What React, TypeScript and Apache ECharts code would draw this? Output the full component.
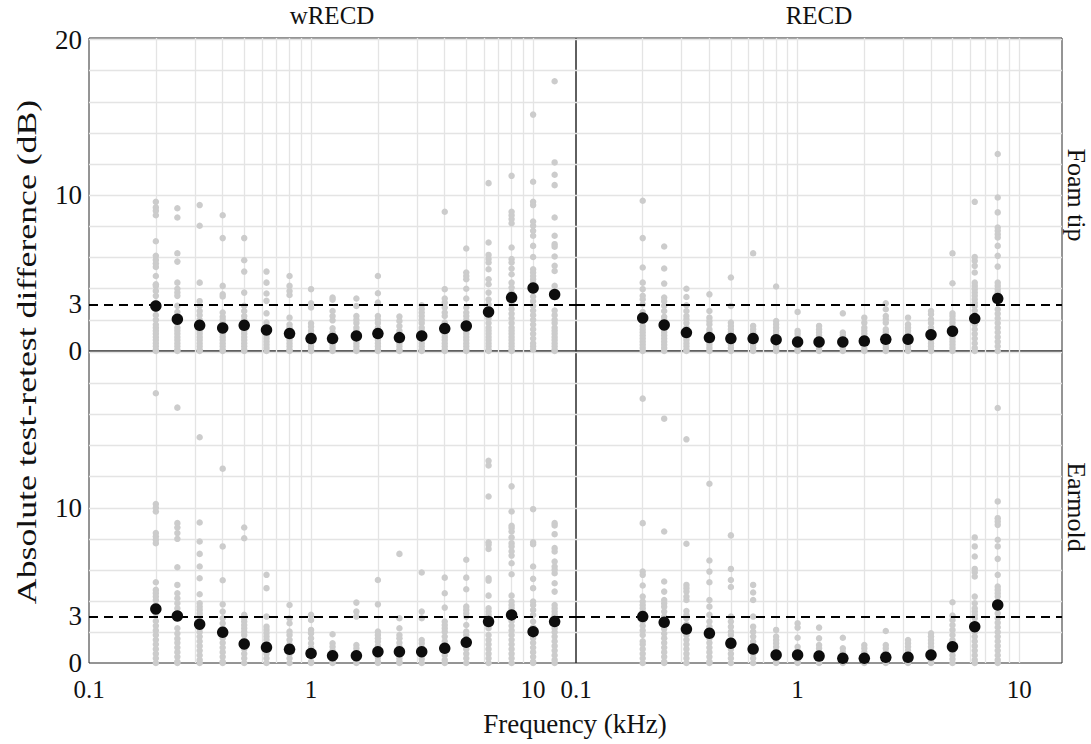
import React, { useEffect, useRef } from "react";
import * as echarts from "echarts";

// ---------- data ----------
const FREQS_WRECD = [0.2, 0.25, 0.315, 0.4, 0.5, 0.63, 0.8, 1, 1.25, 1.6, 2, 2.5, 3.15, 4, 5, 6.3, 8, 10, 12.5];
const FREQS_RECD = [0.2, 0.25, 0.315, 0.4, 0.5, 0.63, 0.8, 1, 1.25, 1.6, 2, 2.5, 3.15, 4, 5, 6.3, 8];

const wrecdFoamMean = [2.89, 2.04, 1.65, 1.48, 1.65, 1.35, 1.12, 0.8, 0.8, 0.97, 1.12, 0.86, 0.97, 1.44, 1.61, 2.51, 3.43, 4.05, 3.63];
const recdFoamMean = [2.12, 1.67, 1.18, 0.86, 0.8, 0.8, 0.73, 0.58, 0.58, 0.58, 0.64, 0.75, 0.75, 1.05, 1.27, 2.08, 3.37];
const wrecdEarMean = [3.48, 3.03, 2.5, 1.98, 1.23, 1.01, 0.88, 0.62, 0.47, 0.47, 0.73, 0.73, 0.73, 0.95, 1.33, 2.67, 3.1, 2.02, 2.67];
const recdEarMean = [2.99, 2.62, 2.19, 1.91, 1.27, 0.9, 0.52, 0.52, 0.45, 0.3, 0.3, 0.37, 0.37, 0.52, 1.05, 2.34, 3.74];

const wrecdFoamGray = [
  [9.58, 9.22, 9.0, 8.72, 7.05, 6.11, 5.85, 5.62, 5.4, 4.82, 4.29, 4.18, 3.86, 3.54, 3.1, 2.7, 2.3, 2.0, 1.7, 1.5, 1.3, 1.1, 0.9, 0.7, 0.5, 0.3, 0.1, 0],
  [9.17, 8.57, 6.28, 5.74, 4.39, 4.0, 3.75, 3.54, 2.9, 2.5, 2.2, 1.8, 1.5, 1.3, 1.1, 0.9, 0.7, 0.5, 0.3, 0.1, 0],
  [9.37, 8.04, 4.39, 3.2, 2.9, 2.57, 2.3, 2.0, 1.8, 1.5, 1.3, 1.1, 0.9, 0.7, 0.5, 0.3, 0.1, 0],
  [8.72, 7.25, 4.18, 3.64, 3.5, 2.47, 2.2, 2.0, 1.8, 1.5, 1.3, 1.1, 0.9, 0.7, 0.5, 0.3, 0.1, 0],
  [7.25, 5.83, 5.1, 3.75, 2.9, 2.57, 2.25, 2.0, 1.8, 1.5, 1.3, 1.1, 0.9, 0.7, 0.5, 0.3, 0.1, 0],
  [5.1, 4.39, 3.69, 3.22, 2.42, 1.82, 1.6, 1.4, 1.2, 1.0, 0.8, 0.6, 0.4, 0.2, 0],
  [4.82, 4.18, 3.85, 3.6, 2.14, 1.7, 1.5, 1.3, 1.1, 0.9, 0.7, 0.5, 0.3, 0.1, 0],
  [3.97, 3.07, 2.79, 1.78, 1.55, 1.3, 1.1, 0.9, 0.7, 0.5, 0.3, 0.1, 0],
  [3.43, 3.3, 2.57, 2.25, 1.97, 1.46, 1.2, 1.0, 0.8, 0.6, 0.4, 0.2, 0],
  [3.37, 2.89, 2.25, 2.0, 1.8, 1.5, 1.3, 1.1, 0.9, 0.7, 0.5, 0.3, 0.1, 0],
  [4.82, 3.71, 3.11, 2.25, 2.0, 1.8, 1.5, 1.3, 1.1, 0.9, 0.7, 0.5, 0.3, 0.1, 0],
  [2.21, 1.93, 1.6, 1.3, 1.1, 0.9, 0.7, 0.5, 0.3, 0.1, 0],
  [2.94, 2.7, 2.47, 2.25, 2.0, 1.8, 1.5, 1.3, 1.1, 0.9, 0.7, 0.5, 0.3, 0.1, 0],
  [8.94, 3.97, 3.37, 3.11, 2.79, 2.47, 2.25, 1.82, 1.5, 1.3, 1.1, 0.9, 0.7, 0.5, 0.3, 0.1, 0],
  [6.58, 5.04, 4.82, 4.61, 4.0, 3.37, 2.79, 2.47, 2.25, 2.0, 1.8, 1.5, 1.3, 1.1, 0.9, 0.7, 0.5, 0.3, 0.1, 0],
  [10.78, 6.97, 6.17, 5.9, 5.68, 5.25, 4.61, 4.29, 3.75, 3.3, 3.0, 2.7, 2.4, 2.1, 1.8, 1.5, 1.3, 1.1, 0.9, 0.7, 0.5, 0.3, 0.1, 0],
  [11.25, 8.94, 8.72, 8.47, 8.2, 6.65, 5.9, 5.68, 5.3, 4.93, 4.39, 4.07, 3.75, 3.0, 2.7, 2.4, 2.1, 1.8, 1.5, 1.3, 1.1, 0.9, 0.7, 0.5, 0.3, 0.1, 0],
  [15.18, 10.87, 9.58, 9.37, 8.32, 8.04, 7.72, 7.4, 6.75, 6.04, 5.25, 5.04, 4.82, 4.61, 4.39, 3.5, 3.2, 2.9, 2.6, 2.3, 2.0, 1.7, 1.4, 1.1, 0.8, 0.5, 0.3, 0.1],
  [17.32, 12.11, 11.32, 10.65, 8.57, 7.4, 6.86, 6.7, 6.07, 5.47, 5.14, 4.18, 2.6, 2.3, 2.0, 1.8, 1.5, 1.3, 1.1, 0.9, 0.7, 0.5, 0.3, 0.1, 0],
];

const recdFoamGray = [
  [9.65, 7.25, 5.36, 4.39, 3.97, 3.54, 3.32, 3.0, 2.5, 2.2, 1.9, 1.6, 1.4, 1.2, 1.0, 0.8, 0.6, 0.4, 0.2, 0],
  [6.71, 5.3, 4.33, 3.43, 3.2, 2.9, 2.57, 2.2, 2.0, 1.4, 1.2, 1.0, 0.8, 0.6, 0.4, 0.2, 0],
  [4.0, 3.47, 2.94, 2.57, 2.25, 2.04, 1.8, 1.5, 1.3, 1.1, 0.9, 0.7, 0.5, 0.3, 0.1, 0],
  [3.64, 2.57, 2.14, 1.93, 1.71, 1.4, 1.2, 1.0, 0.8, 0.6, 0.4, 0.2, 0],
  [4.72, 2.89, 1.82, 1.6, 1.4, 1.2, 1.0, 0.8, 0.6, 0.4, 0.2, 0],
  [6.28, 1.61, 1.4, 1.2, 1.0, 0.8, 0.6, 0.4, 0.2, 0],
  [4.14, 1.93, 1.71, 1.5, 1.3, 1.1, 0.9, 0.7, 0.5, 0.3, 0.1, 0],
  [2.51, 1.29, 1.1, 0.9, 0.7, 0.5, 0.3, 0.1, 0],
  [1.61, 1.4, 1.2, 1.0, 0.8, 0.6, 0.4, 0.2, 0],
  [2.42, 1.18, 1.0, 0.8, 0.6, 0.4, 0.2, 0],
  [2.14, 1.82, 1.5, 1.3, 1.1, 0.9, 0.7, 0.5, 0.3, 0.1, 0],
  [3.07, 2.68, 2.25, 2.04, 1.82, 1.4, 1.2, 1.0, 0.8, 0.6, 0.4, 0.2, 0],
  [2.14, 1.71, 1.5, 1.3, 1.1, 0.9, 0.7, 0.5, 0.3, 0.1, 0],
  [2.57, 2.36, 2.04, 1.8, 1.5, 1.3, 1.1, 0.9, 0.7, 0.5, 0.3, 0.1, 0],
  [6.28, 4.35, 2.42, 2.25, 2.04, 1.82, 1.6, 1.4, 1.2, 1.0, 0.8, 0.6, 0.4, 0.2, 0],
  [9.58, 6.04, 5.79, 5.47, 5.04, 4.39, 4.18, 3.97, 3.75, 3.54, 3.32, 3.1, 2.89, 2.6, 2.3, 2.0, 1.7, 1.4, 1.1, 0.8, 0.5, 0.2, 0],
  [12.65, 9.86, 8.9, 7.93, 7.72, 7.5, 7.29, 6.75, 6.11, 5.42, 4.39, 4.18, 3.97, 3.75, 2.68, 2.4, 2.1, 1.8, 1.5, 1.2, 0.9, 0.6, 0.3, 0],
];

const wrecdEarGray = [
  [17.38, 10.24, 10.0, 9.76, 8.37, 8.15, 7.94, 7.72, 5.2, 4.71, 4.5, 4.28, 4.06, 3.74, 3.2, 2.7, 2.4, 2.1, 1.8, 1.5, 1.2, 0.9, 0.6, 0.3, 0],
  [16.45, 9.01, 8.73, 8.37, 8.0, 6.17, 5.03, 4.49, 4.17, 3.85, 3.53, 2.24, 1.9, 1.57, 1.3, 1.0, 0.7, 0.4, 0.1, 0],
  [14.54, 9.05, 7.83, 7.03, 6.22, 5.46, 4.43, 3.85, 3.63, 3.42, 3.2, 3.0, 2.24, 2.0, 1.7, 1.4, 1.1, 0.8, 0.5, 0.2, 0],
  [12.52, 7.51, 5.33, 3.78, 3.31, 2.88, 2.56, 2.24, 1.9, 1.6, 1.3, 1.0, 0.7, 0.4, 0.1, 0],
  [8.73, 8.04, 3.1, 2.88, 2.67, 2.45, 2.24, 2.02, 1.8, 1.5, 1.2, 0.9, 0.6, 0.3, 0],
  [5.68, 4.82, 2.99, 2.34, 2.13, 1.91, 1.7, 1.5, 1.2, 0.9, 0.6, 0.3, 0],
  [3.74, 2.88, 2.56, 2.02, 1.8, 1.5, 1.2, 0.9, 0.6, 0.3, 0],
  [3.1, 2.77, 2.13, 1.91, 1.59, 1.27, 1.0, 0.7, 0.4, 0.1, 0],
  [1.85, 1.27, 1.05, 0.8, 0.55, 0.3, 0.1, 0],
  [3.89, 3.31, 2.99, 1.16, 0.95, 0.7, 0.45, 0.2, 0],
  [5.35, 3.78, 2.02, 1.8, 1.59, 1.38, 1.1, 0.85, 0.6, 0.35, 0.1, 0],
  [7.03, 2.88, 2.24, 1.8, 1.59, 1.3, 1.05, 0.8, 0.55, 0.3, 0.1, 0],
  [5.83, 3.31, 2.88, 1.48, 1.27, 1.0, 0.75, 0.5, 0.25, 0],
  [5.5, 4.49, 3.57, 2.67, 2.45, 2.24, 2.02, 1.7, 1.4, 1.1, 0.8, 0.5, 0.2, 0],
  [6.65, 5.5, 4.75, 3.63, 3.42, 3.2, 2.99, 2.45, 2.02, 1.8, 1.5, 1.2, 0.9, 0.6, 0.3, 0],
  [13.03, 12.73, 10.73, 7.78, 7.61, 7.35, 5.46, 5.31, 4.34, 3.53, 3.31, 3.1, 2.24, 1.8, 1.5, 1.2, 0.9, 0.6, 0.3, 0],
  [11.38, 9.76, 8.84, 8.69, 8.47, 8.09, 7.72, 7.51, 7.2, 6.92, 6.43, 5.72, 4.34, 3.96, 3.74, 3.53, 2.7, 2.4, 2.1, 1.8, 1.5, 1.2, 0.9, 0.6, 0.3, 0],
  [9.91, 7.78, 7.65, 6.22, 5.42, 4.82, 3.96, 3.74, 3.42, 3.1, 2.67, 2.3, 1.9, 1.59, 1.3, 1.0, 0.7, 0.4, 0.1, 0],
  [9.01, 8.86, 8.3, 7.4, 7.18, 6.54, 6.22, 6.0, 5.78, 5.14, 4.6, 3.74, 3.53, 3.31, 3.1, 2.24, 2.0, 1.7, 1.4, 1.1, 0.8, 0.5, 0.2, 0],
];

const recdEarGray = [
  [17.03, 9.01, 5.89, 5.68, 4.99, 4.28, 3.96, 3.74, 3.53, 3.31, 2.67, 2.4, 2.1, 1.8, 1.4, 1.2, 0.9, 0.6, 0.3, 0],
  [15.74, 8.47, 5.25, 4.6, 4.06, 3.85, 3.63, 3.31, 2.99, 2.45, 2.2, 1.9, 1.6, 1.3, 1.0, 0.7, 0.4, 0.1, 0],
  [14.41, 7.68, 5.03, 4.82, 4.6, 4.28, 4.06, 3.35, 3.1, 2.88, 2.5, 1.8, 1.5, 1.2, 0.9, 0.6, 0.3, 0],
  [11.55, 6.6, 5.89, 5.2, 4.06, 3.63, 3.1, 2.67, 2.34, 1.9, 1.59, 1.3, 1.0, 0.7, 0.4, 0.1, 0],
  [8.22, 6.06, 5.35, 4.9, 2.99, 2.67, 2.34, 2.02, 1.8, 1.5, 1.2, 0.9, 0.6, 0.3, 0],
  [5.03, 4.54, 4.06, 2.99, 2.34, 2.02, 1.7, 1.38, 1.16, 0.9, 0.6, 0.3, 0],
  [2.13, 1.7, 1.48, 1.27, 1.05, 0.8, 0.55, 0.3, 0.1, 0],
  [2.56, 2.28, 1.63, 1.05, 0.8, 0.55, 0.3, 0.1, 0],
  [2.28, 1.59, 1.16, 0.95, 0.7, 0.45, 0.2, 0],
  [1.63, 0.95, 0.7, 0.45, 0.2, 0],
  [1.16, 0.95, 0.7, 0.45, 0.2, 0],
  [2.06, 1.16, 0.95, 0.7, 0.45, 0.2, 0],
  [1.48, 1.27, 1.05, 0.8, 0.55, 0.3, 0.1, 0],
  [1.91, 1.7, 1.48, 1.27, 1.05, 0.8, 0.55, 0.3, 0.1, 0],
  [3.91, 3.05, 2.77, 2.45, 2.13, 1.8, 1.48, 1.27, 1.0, 0.75, 0.5, 0.25, 0],
  [8.09, 7.51, 6.86, 6.06, 5.85, 5.57, 4.28, 3.85, 3.53, 3.31, 3.1, 2.88, 2.24, 2.0, 1.7, 1.4, 1.1, 0.8, 0.5, 0.2, 0],
  [16.43, 10.41, 9.33, 9.12, 8.9, 7.94, 7.51, 6.71, 5.68, 4.92, 4.71, 4.49, 4.28, 3.96, 3.6, 3.2, 2.9, 2.6, 2.3, 2.0, 1.7, 1.4, 1.1, 0.8, 0.5, 0.2, 0],
];

const X_TICKS = [0.1, 1, 10];
const X_TICK_LABELS = ["0.1", "1", "10"];
const Y_TICKS_TOP = [0, 3, 10, 20];
const Y_TICKS_BOTTOM = [0, 3, 10];
const X_GRIDLINES = [0.2, 0.3, 0.4, 0.5, 0.6, 0.7, 0.8, 0.9, 1, 2, 3, 4, 5, 6, 7, 8, 9, 10];
const Y_GRIDLINES = [2, 4, 6, 8, 10, 12, 14, 16, 18, 20];
const REFERENCE_DB = 3;
const X_RANGE = [0.1, 15.6];
const Y_RANGE = [0, 20.1];

const COLUMN_TITLES = ["wRECD", "RECD"];
const ROW_TITLES = ["Foam tip", "Earmold"];
const X_TITLE = "Frequency (kHz)";
const Y_TITLE = "Absolute test-retest difference (dB)";

// ---------- chart ----------
const FONT = "Liberation Serif";
const TEXT = "#111111";

const panels = [
  { freqs: FREQS_WRECD, mean: wrecdFoamMean, gray: wrecdFoamGray, grid: { left: 89, top: 38, width: 487, height: 313 }, bottom: false },
  { freqs: FREQS_RECD, mean: recdFoamMean, gray: recdFoamGray, grid: { left: 576, top: 38, width: 486, height: 313 }, bottom: false },
  { freqs: FREQS_WRECD, mean: wrecdEarMean, gray: wrecdEarGray, grid: { left: 89, top: 351, width: 487, height: 312 }, bottom: true },
  { freqs: FREQS_RECD, mean: recdEarMean, gray: recdEarGray, grid: { left: 576, top: 351, width: 486, height: 312 }, bottom: true },
];

function buildOption() {
  const grid: any[] = [];
  const xAxis: any[] = [];
  const yAxis: any[] = [];
  const series: any[] = [];

  panels.forEach((p, i) => {
    grid.push({ ...p.grid, show: true, borderColor: "#2a2a2a", borderWidth: 1, backgroundColor: "transparent", containLabel: false });
    xAxis.push({
      type: "log",
      logBase: 10,
      gridIndex: i,
      min: X_RANGE[0],
      max: X_RANGE[1],
      axisLine: { show: false },
      axisTick: { show: false },
      splitLine: { show: false },
      minorSplitLine: { show: false },
      axisLabel: {
        show: p.bottom,
        fontFamily: FONT,
        fontSize: 25,
        color: TEXT,
        margin: 14,
        showMinLabel: true,
        showMaxLabel: true,
        formatter: (v: number) => {
          for (let k = 0; k < X_TICKS.length; k++) {
            if (Math.abs(Math.log10(v) - Math.log10(X_TICKS[k])) < 1e-6) return X_TICK_LABELS[k];
          }
          return "";
        },
      },
    });
    const yt = p.bottom ? Y_TICKS_BOTTOM : Y_TICKS_TOP;
    yAxis.push({
      type: "value",
      gridIndex: i,
      min: Y_RANGE[0],
      max: Y_RANGE[1],
      interval: 1,
      axisLine: { show: false },
      axisTick: { show: false },
      splitLine: { show: false },
      axisLabel: {
        show: i % 2 === 0,
        fontFamily: FONT,
        fontSize: 27,
        color: TEXT,
        margin: 7,
        showMinLabel: true,
        showMaxLabel: true,
        formatter: (v: number) => (yt.some((t) => Math.abs(t - v) < 1e-9) ? String(v) : ""),
      },
    });

    // gridlines (through the axes' scales)
    series.push({
      type: "scatter",
      xAxisIndex: i,
      yAxisIndex: i,
      data: [[1, 0]],
      symbolSize: 0,
      silent: true,
      z: 1,
      markLine: {
        silent: true,
        symbol: "none",
        z: 1,
        label: { show: false },
        lineStyle: { color: "#e4e4e4", width: 1.3, type: "solid", opacity: 1 },
        data: [
          ...X_GRIDLINES.map((v) => ({ xAxis: v })),
          ...Y_GRIDLINES.map((v) => ({ yAxis: v })),
        ],
      },
    });

    // individual test-retest differences
    const grayData: number[][] = [];
    p.gray.forEach((col, k) => col.forEach((v) => grayData.push([p.freqs[k], v])));
    series.push({
      type: "scatter",
      xAxisIndex: i,
      yAxisIndex: i,
      data: grayData,
      symbolSize: 6.5,
      itemStyle: { color: "#cccccc", opacity: 1 },
      z: 2,
      silent: true,
      clip: false,
      markLine: {
        silent: true,
        symbol: "none",
        z: 3,
        label: { show: false },
        lineStyle: { color: "#000000", width: 1.8, type: [9, 6], opacity: 1 },
        data: [{ yAxis: REFERENCE_DB }],
      },
    });

    // mean
    series.push({
      type: "scatter",
      xAxisIndex: i,
      yAxisIndex: i,
      data: p.mean.map((v, k) => [p.freqs[k], v]),
      symbolSize: 11.5,
      itemStyle: { color: "#0d0d0d", opacity: 1 },
      z: 4,
      silent: true,
    });
  });

  const textStyle = (t: string, size: number) => ({
    text: t,
    fill: TEXT,
    fontFamily: FONT,
    fontSize: size,
    align: "center",
    verticalAlign: "middle",
  });

  const graphic: any[] = [
    { type: "text", x: 332, y: 15, style: textStyle(COLUMN_TITLES[0], 25) },
    { type: "text", x: 819, y: 15, style: textStyle(COLUMN_TITLES[1], 25) },
    { type: "text", x: 1076, y: 195, rotation: -Math.PI / 2, style: textStyle(ROW_TITLES[0], 26) },
    { type: "text", x: 1076, y: 507, rotation: -Math.PI / 2, style: textStyle(ROW_TITLES[1], 26) },
    { type: "text", x: 575, y: 724, style: textStyle(X_TITLE, 27) },
    { type: "text", x: 27, y: 352, rotation: Math.PI / 2, scaleX: 1.3, style: textStyle(Y_TITLE, 27.5) },
  ];

  return { animation: false, backgroundColor: "#ffffff", grid, xAxis, yAxis, series, graphic };
}

export default function App() {
  const ref = useRef<HTMLDivElement>(null);
  useEffect(() => {
    document.body.style.margin = "0";
    if (!ref.current) return;
    const chart = echarts.init(ref.current, undefined, { renderer: "svg" });
    chart.setOption(buildOption());
    return () => chart.dispose();
  }, []);
  return <div ref={ref} style={{ width: 1091, height: 744 }} />;
}
